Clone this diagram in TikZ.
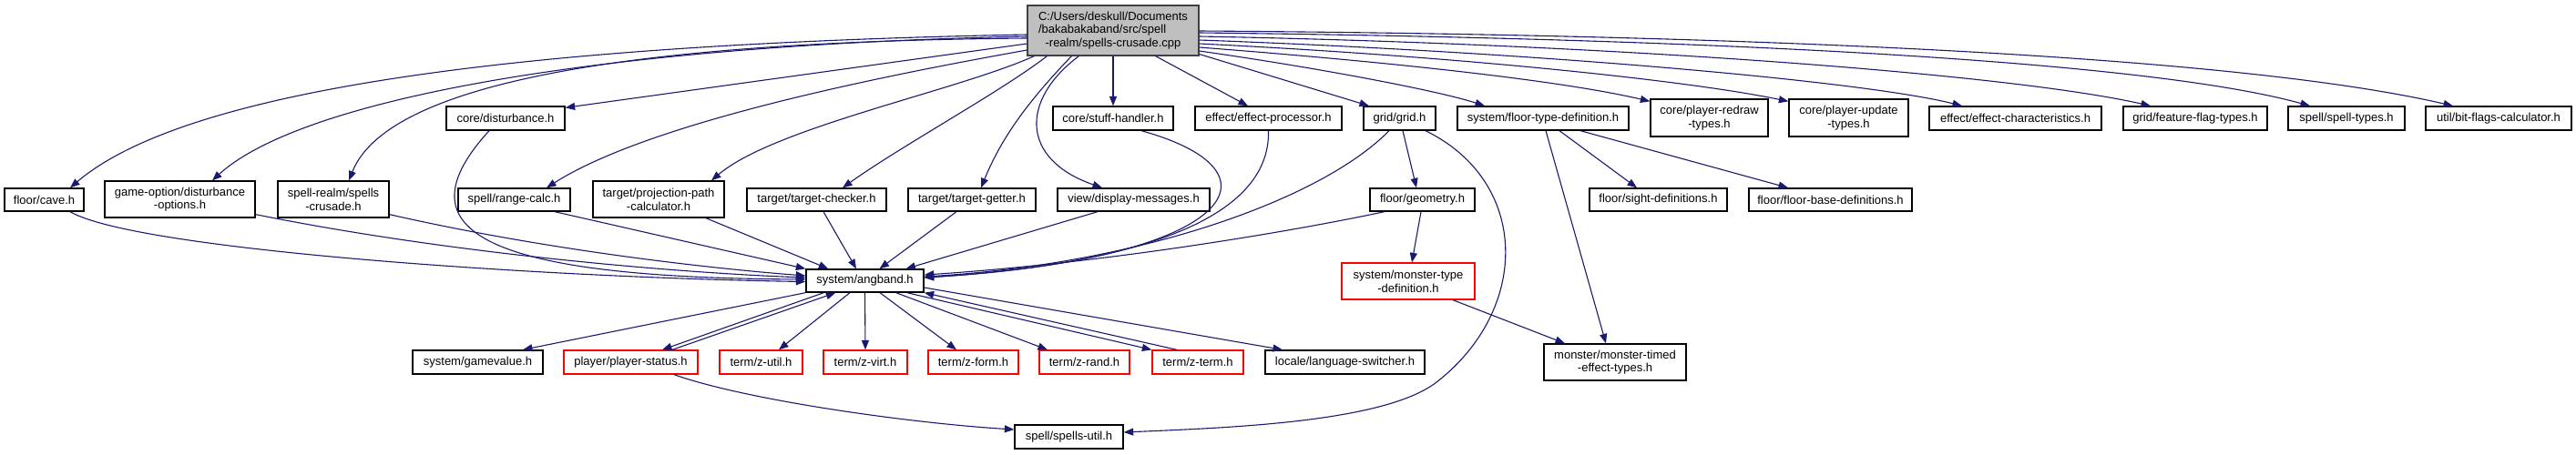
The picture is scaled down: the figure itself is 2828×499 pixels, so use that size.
\documentclass[tikz,border=0pt]{standalone}
\usepackage{fontspec}
\setmainfont{Liberation Sans}
\usetikzlibrary{arrows.meta}
\definecolor{edgec}{HTML}{191970}
\definecolor{mainfill}{HTML}{BFBFBF}
\definecolor{mainborder}{HTML}{404040}
\tikzset{
  box/.style={draw=black, fill=white, line width=1.3pt, inner sep=0pt, align=center,
    font=\fontsize{13}{14.7}\selectfont},
  redbox/.style={box, draw=red},
  mainbox/.style={box, fill=mainfill, draw=mainborder},
  dep/.style={draw=edgec, line width=1.1pt, -{Triangle[length=10.5pt,width=8pt]}},
}
\begin{document}
\begin{tikzpicture}[x=1pt,y=-1pt]
\fill[white] (0,0) rectangle (2828,499);
\useasboundingbox (0,0) rectangle (2828,499);

% nodes
\node[mainbox, minimum width=188pt, minimum height=55pt] (M) at (1222,33.5)
  {C:/Users/deskull/Documents\\\rlap{/bakabakaband/src/spell}\phantom{C:/Users/deskull/Documents}\\-realm/spells-crusade.cpp};

\node[box, minimum width=130pt, minimum height=26pt] (disturb) at (555,130) {core/disturbance.h};
\node[box, minimum width=132pt, minimum height=26pt] (stuff) at (1222,130) {core/stuff-handler.h};
\node[box, minimum width=161pt, minimum height=26pt] (effproc) at (1392.5,130) {effect/effect-processor.h};
\node[box, minimum width=79pt, minimum height=26pt] (grid) at (1536.5,130) {grid/grid.h};
\node[box, minimum width=188pt, minimum height=26pt] (floortype) at (1694,130) {system/floor-type-definition.h};
\node[box, minimum width=129pt, minimum height=41pt] (redraw) at (1876.5,129.5) {core/player-redraw\\-types.h};
\node[box, minimum width=131pt, minimum height=41pt] (update) at (2029.5,129.5) {core/player-update\\-types.h};
\node[box, minimum width=189pt, minimum height=26pt] (effchar) at (2212.5,130) {effect/effect-characteristics.h};
\node[box, minimum width=158pt, minimum height=26pt] (featflag) at (2410,130) {grid/feature-flag-types.h};
\node[box, minimum width=128pt, minimum height=26pt] (spelltypes) at (2576,130) {spell/spell-types.h};
\node[box, minimum width=160pt, minimum height=26pt] (bitflags) at (2743,130) {util/bit-flags-calculator.h};

\node[box, minimum width=87pt, minimum height=25pt] (cave) at (48.5,219.5) {floor/cave.h};
\node[box, minimum width=165pt, minimum height=40pt] (gameopt) at (197.5,219) {game-option/disturbance\\-options.h};
\node[box, minimum width=122pt, minimum height=40pt] (crusadeh) at (366,219) {spell-realm/spells\\-crusade.h};
\node[box, minimum width=123pt, minimum height=25pt] (rangecalc) at (564.5,219.5) {spell/range-calc.h};
\node[box, minimum width=144pt, minimum height=40pt] (projpath) at (723,219) {target/projection-path\\-calculator.h};
\node[box, minimum width=153pt, minimum height=25pt] (tchecker) at (896.5,219.5) {target/target-checker.h};
\node[box, minimum width=140pt, minimum height=25pt] (tgetter) at (1067,219.5) {target/target-getter.h};
\node[box, minimum width=167pt, minimum height=25pt] (dispmsg) at (1244.5,219.5) {view/display-messages.h};
\node[box, minimum width=115pt, minimum height=25pt] (geometry) at (1561.5,219.5) {floor/geometry.h};
\node[box, minimum width=151pt, minimum height=25pt] (sight) at (1820.5,219.5) {floor/sight-definitions.h};
\node[box, minimum width=179pt, minimum height=25pt] (floorbase) at (2009.5,219.5) {floor/floor-base-definitions.h};

\node[box, minimum width=129pt, minimum height=25pt] (ang) at (949.5,308.5) {system/angband.h};
\node[redbox, minimum width=146pt, minimum height=40pt] (montype) at (1546,309) {system/monster-type\\-definition.h};

\node[box, minimum width=143pt, minimum height=26pt] (gamevalue) at (524.5,398) {system/gamevalue.h};
\node[redbox, minimum width=147pt, minimum height=26pt] (pstatus) at (692.5,398) {player/player-status.h};
\node[redbox, minimum width=91pt, minimum height=26pt] (zutil) at (835.5,398) {term/z-util.h};
\node[redbox, minimum width=92pt, minimum height=26pt] (zvirt) at (950,398) {term/z-virt.h};
\node[redbox, minimum width=99pt, minimum height=26pt] (zform) at (1068.5,398) {term/z-form.h};
\node[redbox, minimum width=99pt, minimum height=26pt] (zrand) at (1190.5,398) {term/z-rand.h};
\node[redbox, minimum width=100pt, minimum height=26pt] (zterm) at (1315,398) {term/z-term.h};
\node[box, minimum width=175pt, minimum height=26pt] (langsw) at (1476.5,398) {locale/language-switcher.h};
\node[box, minimum width=156pt, minimum height=40pt] (montimed) at (1773,398) {monster/monster-timed\\-effect-types.h};

\node[box, minimum width=119pt, minimum height=26pt] (spellsutil) at (1173.5,480) {spell/spells-util.h};

% edges from main node
\draw[dep] ([yshift=-4.5pt]M.west) .. controls (500,50) and (190,110) .. ([xshift=28.5pt]cave.north);
\draw[dep] ([yshift=-6.5pt]M.west) .. controls (650,50) and (330,110) .. ([xshift=35.5pt]gameopt.north);
\draw[dep] ([yshift=-8.5pt]M.west) .. controls (750,45) and (430,80) .. ([xshift=17pt]crusadeh.north);
\draw[dep] ([yshift=-14.5pt]M.west) -- ([yshift=-2pt]disturb.north east);
\draw[dep] ([yshift=-21.5pt]M.west) .. controls (1000,78) and (720,130) .. ([xshift=35.5pt]rangecalc.north);
\draw[dep] ([xshift=8pt]M.south west) .. controls (1050,100) and (850,140) .. ([xshift=58pt]projpath.north);
\draw[dep] ([xshift=22pt]M.south west) .. controls (1100,100) and (990,160) .. ([xshift=28.5pt]tchecker.north);
\draw[dep] ([xshift=49pt]M.south west) .. controls (1130,110) and (1100,150) .. ([xshift=10pt]tgetter.north);
\draw[dep] ([xshift=57pt]M.south west) .. controls (1120,110) and (1120,175) .. ([xshift=-34.5pt]dispmsg.north);
\draw[dep] (M.south) -- (stuff.north);
\draw[dep] ([xshift=-48pt]M.south east) -- ([xshift=-22.5pt]effproc.north);
\draw[dep] ([yshift=-26pt]M.east) -- ([xshift=-33.5pt]grid.north);
\draw[dep] ([yshift=-22.5pt]M.east) .. controls (1450,75) and (1580,100) .. ([xshift=-64pt]floortype.north);
\draw[dep] ([yshift=-18.5pt]M.east) .. controls (1550,70) and (1720,90) .. ([yshift=-3pt]redraw.north west);
\draw[dep] ([yshift=-14.5pt]M.east) .. controls (1600,62) and (1850,88) .. ([yshift=-3pt]update.north west);
\draw[dep] ([yshift=-10.5pt]M.east) .. controls (1700,58) and (2050,90) .. ([xshift=-58.5pt]effchar.north);
\draw[dep] ([yshift=-6.5pt]M.east) .. controls (1750,48) and (2200,80) .. ([xshift=-49pt]featflag.north);
\draw[dep] ([yshift=-2.5pt]M.east) .. controls (1850,42) and (2350,65) .. ([xshift=-40pt]spelltypes.north);
\draw[dep] ([yshift=-0.5pt]M.east) .. controls (1900,38) and (2450,60) .. ([xshift=-50pt]bitflags.north);

% edges into system/angband.h
\draw[dep] ([xshift=28.5pt]cave.south) .. controls (150,275) and (600,305) .. ([yshift=-1pt]ang.west);
\draw[dep] ([yshift=4pt]gameopt.south east) .. controls (500,280) and (750,300) .. ([yshift=3.5pt]ang.west);
\draw[dep] ([yshift=4pt]crusadeh.south east) .. controls (600,275) and (780,295) .. ([yshift=5.5pt]ang.west);
\draw[dep] ([xshift=-18pt]disturb.south) .. controls (440,250) and (520,305) .. ([yshift=1.5pt]ang.west);
\draw[dep] ([xshift=44.5pt]rangecalc.south) -- (ang.north west);
\draw[dep] ([xshift=52pt]projpath.south) -- ([xshift=25pt]ang.north west);
\draw[dep] ([xshift=7.5pt]tchecker.south) -- ([xshift=-9.5pt]ang.north);
\draw[dep] ([xshift=-17pt]tgetter.south) -- ([xshift=16pt]ang.north);
\draw[dep] ([xshift=-39.5pt]dispmsg.south) -- ([xshift=45pt]ang.north);
\draw[dep] ([xshift=31pt]stuff.south) .. controls (1420,190) and (1350,285) .. ([yshift=3.5pt]ang.east);
\draw[dep] (effproc.south) .. controls (1395,240) and (1250,290) .. ([yshift=3.5pt]ang.east);
\draw[dep] ([xshift=-11.5pt]grid.south) .. controls (1450,220) and (1250,290) .. ([yshift=4.5pt]ang.east);
\draw[dep] ([xshift=-41.5pt]geometry.south) .. controls (1400,258) and (1200,290) .. ([yshift=6.5pt]ang.east);

% edges from system/angband.h
\draw[dep] (ang.south west) -- ([xshift=49.5pt]gamevalue.north);
\draw[dep] ([xshift=20pt]ang.south west) -- ([xshift=34.5pt]pstatus.north);
\draw[dep] ([xshift=45.5pt]pstatus.north) -- ([xshift=33pt]ang.south west);
\draw[dep] ([xshift=-16.5pt]ang.south) -- ([xshift=19.5pt]zutil.north);
\draw[dep] (ang.south) -- (zvirt.north);
\draw[dep] ([xshift=16.5pt]ang.south) -- ([xshift=-18.5pt]zform.north);
\draw[dep] ([xshift=-31pt]ang.south east) -- ([xshift=-40.5pt]zrand.north);
\draw[dep] ([xshift=-19pt]ang.south east) -- (zterm.north west);
\draw[dep] ([xshift=-23pt]zterm.north) -- (ang.south east);
\draw[dep] ([yshift=-7.5pt]ang.east) -- ([xshift=-68.5pt]langsw.north);

% other edges
\draw[dep] ([xshift=47.5pt]pstatus.south) .. controls (820,440) and (1000,465) .. ([yshift=8pt]spellsutil.west);
\draw[dep] ([xshift=28.5pt]grid.south) .. controls (1680,200) and (1680,340) .. (1577,420)
   .. controls (1520,464) and (1350,470) .. ([yshift=5pt]spellsutil.east);
\draw[dep] ([xshift=3.5pt]grid.south) -- ([xshift=-6.5pt]geometry.north);
\draw[dep] ([xshift=-1.5pt]geometry.south) -- ([xshift=4pt]montype.north);
\draw[dep] ([xshift=49pt]montype.south) -- ([xshift=-55pt]montimed.north);
\draw[dep] ([xshift=3pt]floortype.south) -- ([xshift=-10pt]montimed.north);
\draw[dep] ([xshift=18pt]floortype.south) -- ([xshift=-23.5pt]sight.north);
\draw[dep] ([xshift=41pt]floortype.south) -- ([xshift=-46.5pt]floorbase.north);
\end{tikzpicture}
\end{document}
